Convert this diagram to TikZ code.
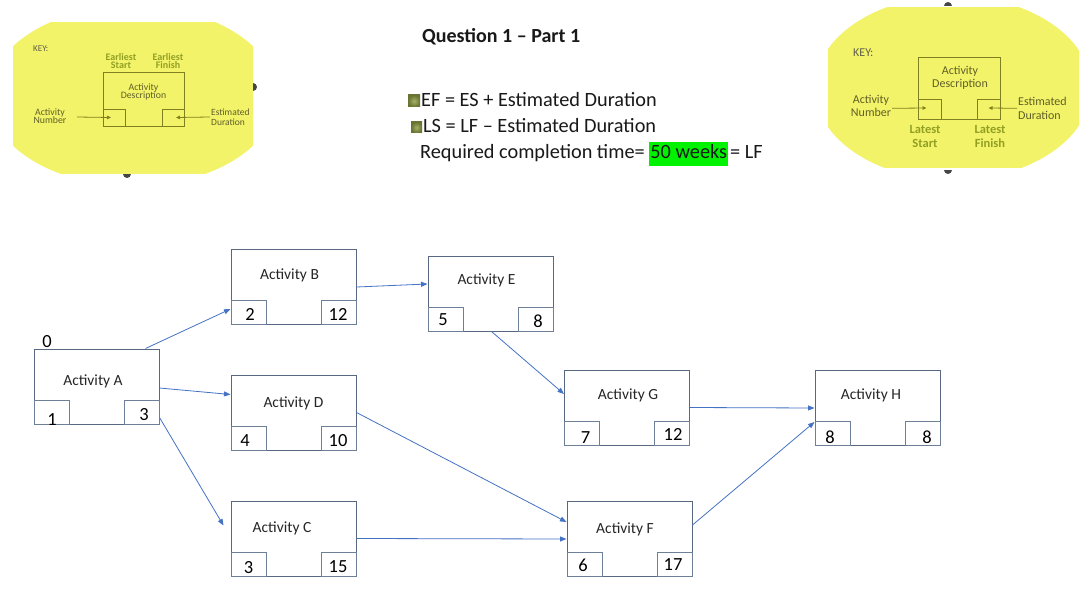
\documentclass[tikz,border=0pt]{standalone}
\usepackage{fontspec}
\setmainfont{Carlito}
\usetikzlibrary{arrows.meta,calc}
\definecolor{boxline}{RGB}{88,104,128}
\definecolor{cellline}{RGB}{110,128,152}
\definecolor{conn}{RGB}{68,114,196}
\definecolor{keyyellow}{RGB}{243,243,105}
\definecolor{keyline}{RGB}{128,128,30}
\definecolor{keybold}{RGB}{145,160,35}
\definecolor{keytext}{RGB}{95,95,40}
\definecolor{keygrey}{RGB}{95,95,75}
\definecolor{hlgreen}{RGB}{0,242,0}
\definecolor{bulletdark}{RGB}{105,115,50}
\definecolor{bulletlight}{RGB}{165,175,100}
\definecolor{handle}{RGB}{70,70,70}
\begin{document}
\begin{tikzpicture}[x=1pt,y=-1pt,
 actbox/.style={draw=boxline,line width=1pt,minimum width=125pt,minimum height=75pt,inner sep=0pt},
 cellbox/.style={draw=cellline,line width=0.8pt,minimum width=35pt,minimum height=24pt,inner sep=0pt},
 actlabel/.style={anchor=base,inner sep=0pt,font=\fontsize{15.5}{18}\selectfont,text=black!85},
 numlabel/.style={anchor=base,inner sep=0pt,font=\fontsize{18.5}{22}\selectfont,text=black},
 connector/.style={draw=conn,line width=0.8pt,-{Triangle[length=6.5pt,width=5pt]}},
 headtext/.style={anchor=base west,inner sep=0pt,font=\fontsize{20.3}{24}\selectfont,text=black!90},
 keybox/.style={draw=keyline,line width=0.8pt,inner sep=0pt},
 keyarrow/.style={draw=keyline,line width=0.8pt,-{Triangle[length=4pt,width=3.5pt]}},
 keysmall/.style={inner sep=0pt,align=center,text=keytext,font=\fontsize{9.8}{8.5}\selectfont},
 keysmallbold/.style={inner sep=0pt,align=center,text=keybold,font=\bfseries\fontsize{10}{8.5}\selectfont},
 keylarge/.style={inner sep=0pt,align=center,text=keytext,font=\fontsize{12}{13}\selectfont},
 keylargebold/.style={inner sep=0pt,align=center,text=keybold,font=\bfseries\fontsize{12.5}{14}\selectfont},
 handlemark/.style={fill=handle}
]
\useasboundingbox (0,0) rectangle (1079,607);
\fill[white] (0,0) rectangle (1079,607);

% ---------------- left key ----------------
\begin{scope}
\clip (13,23) rectangle (253,173);
\fill[keyyellow] (133,96) ellipse [x radius=144,y radius=90];
\end{scope}
\fill[handlemark] (123,174) arc[start angle=180,end angle=0,radius=4] -- cycle;
\fill[handlemark] (253,91) arc[start angle=90,end angle=-90,radius=4] -- cycle;
\node[keybox,minimum width=81pt,minimum height=54pt] (kL) at (143.5,99) {};
\node[keybox,minimum width=22pt,minimum height=17pt,anchor=south west] (kLa) at (kL.south west) {};
\node[keybox,minimum width=22pt,minimum height=17pt,anchor=south east] (kLb) at (kL.south east) {};
\node[inner sep=0pt,anchor=base west,text=keygrey,font=\fontsize{9}{10}\selectfont] (kLkey) at (33,52) {KEY:};
\node[keysmallbold,anchor=base] (kLes) at (121,69) {Earliest\\Start};
\node[keysmallbold,anchor=base] (kLef) at (168,69) {Earliest\\Finish};
\node[keysmall,anchor=base] (kLdesc) at (143.5,99) {Activity\\Description};
\node[keysmall,anchor=base] (kLnum) at (50,124) {Activity\\Number};
\node[keysmall,anchor=base west,align=left,font=\fontsize{9.5}{10.5}\selectfont] (kLdur) at (211,126) {Estimated\\Duration};
\coordinate (kLs1) at (77,117);
\coordinate (kLs2) at (210,117);
\draw[keyarrow] (kLs1) -- ($(kLa.center)+(-3,0)$);
\draw[keyarrow] (kLs2) -- ($(kLb.center)+(3,0)$);

% ---------------- right key ----------------
\begin{scope}
\clip (828,8) rectangle (1079,168);
\fill[keyyellow] (953,88) ellipse [x radius=138,y radius=92];
\end{scope}
\fill[handlemark] (944,6) arc[start angle=180,end angle=360,radius=4] -- cycle;
\fill[handlemark] (944,170) arc[start angle=180,end angle=0,radius=4] -- cycle;
\node[keybox,minimum width=82pt,minimum height=62pt] (kR) at (959,88) {};
\node[keybox,minimum width=23pt,minimum height=20pt,anchor=south west] (kRa) at (kR.south west) {};
\node[keybox,minimum width=23pt,minimum height=20pt,anchor=south east] (kRb) at (kR.south east) {};
\node[inner sep=0pt,anchor=base west,text=keygrey,font=\fontsize{12}{13}\selectfont] (kRkey) at (853,57) {KEY:};
\node[keylarge,anchor=base] (kRdesc) at (960,88) {Activity\\Description};
\node[keylarge,anchor=base] (kRnum) at (871,117) {Activity\\Number};
\node[keylarge,anchor=base west,align=left,font=\fontsize{12}{14.5}\selectfont] (kRdur) at (1018,120) {Estimated\\Duration};
\node[keylargebold,anchor=base] (kRls) at (925,148) {Latest\\Start};
\node[keylargebold,anchor=base] (kRlf) at (990,148) {Latest\\Finish};
\coordinate (kRs1) at (892,108.3);
\coordinate (kRs2) at (1017,108.3);
\draw[keyarrow] (kRs1) -- ($(kRa.center)+(-3,-1)$);
\draw[keyarrow] (kRs2) -- ($(kRb.center)+(0,-1)$);

% ---------------- heading text ----------------
\node[headtext,font=\bfseries\fontsize{20}{24}\selectfont] (title) at (422,43) {Question 1 – Part 1};
\shade[inner color=bulletlight,outer color=bulletdark] (408,95) rectangle (420,107);
\shade[inner color=bulletlight,outer color=bulletdark] (411,122) rectangle (422,133);
\node[headtext] (ef) at (421,107) {EF = ES + Estimated Duration};
\node[headtext] (ls) at (423,133) {LS = LF – Estimated Duration};
\node[headtext] (req) at (420,159) {Required completion time= {\setlength{\fboxsep}{0pt}\colorbox{hlgreen}{\strut\hspace{1pt}50 weeks\hspace{1pt}}}\hspace{2pt}= LF};

% ---------------- activity boxes ----------------
\node[actbox] (A) at (96.5,386.5) {};
\node[actbox] (B) at (293.5,287) {};
\node[actbox] (D) at (293.5,412.5) {};
\node[actbox] (C) at (293.5,538.5) {};
\node[actbox] (E) at (490.5,293.5) {};
\node[actbox] (G) at (627,407.5) {};
\node[actbox] (F) at (629.5,539) {};
\node[actbox] (H) at (877.5,408) {};
\foreach \n in {A,B,C,D,E,F,G,H}{
  \node[cellbox,anchor=south west] (\n1) at (\n.south west) {};
  \node[cellbox,anchor=south east] (\n2) at (\n.south east) {};
}

% labels
\node[actlabel] (Alab) at (93,385) {Activity A};
\node[actlabel] (Blab) at (289.5,279) {Activity B};
\node[actlabel] (Dlab) at (293.5,407) {Activity D};
\node[actlabel] (Clab) at (282,532) {Activity C};
\node[actlabel] (Flab) at (625,533) {Activity F};
\node[actlabel] (Glab) at (628,399) {Activity G};
\node[actlabel] (Elab) at (486.5,284) {Activity E};
\node[actlabel] (Hlab) at (871,399) {Activity H};

% numbers
\node[numlabel] (A0) at (47,347) {0};
\node[numlabel] (An1) at (52,425) {1};
\node[numlabel] (An2) at (144,420) {3};
\node[numlabel] (Bn1) at (250,320) {2};
\node[numlabel] (Bn2) at (338,320) {12};
\node[numlabel] (Dn1) at (245,446) {4};
\node[numlabel] (Dn2) at (338,446) {10};
\node[numlabel] (Cn1) at (248.5,573) {3};
\node[numlabel] (Cn2) at (338,572) {15};
\node[numlabel] (Fn1) at (583,571) {6};
\node[numlabel] (Fn2) at (673,570) {17};
\node[numlabel] (Gn1) at (585.5,443) {7};
\node[numlabel] (Gn2) at (673,440) {12};
\node[numlabel] (En1) at (443,325) {5};
\node[numlabel] (En2) at (538,327) {8};
\node[numlabel] (Hn1) at (830,443) {8};
\node[numlabel] (Hn2) at (927,443) {8};

% ---------------- connectors ----------------
\coordinate (Cin) at ($(C.west)+(-7,-13)$);
\draw[connector] ($(A.north east)+(-14,0)$) -- ($(B.south west)+(0,-16)$);
\draw[connector] ($(A.east)+(0,1.5)$) -- ($(D.north west)+(0,20)$);
\draw[connector] ($(A.south east)+(0,-7)$) -- (Cin);
\draw[connector] (B.east) -- ($(E.west)+(0,-9.5)$);
\draw[connector] ($(E.south)+(1,0)$) -- ($(G.west)+(0,-13.5)$);
\draw[connector] (D.east) -- ($(F.west)+(0,-17)$);
\draw[connector] (C.east) -- (F.west);
\draw[connector] (G.east) -- (H.west);
\draw[connector] ($(F.east)+(0,-14)$) -- ($(H.west)+(0,14)$);
\end{tikzpicture}
\end{document}
